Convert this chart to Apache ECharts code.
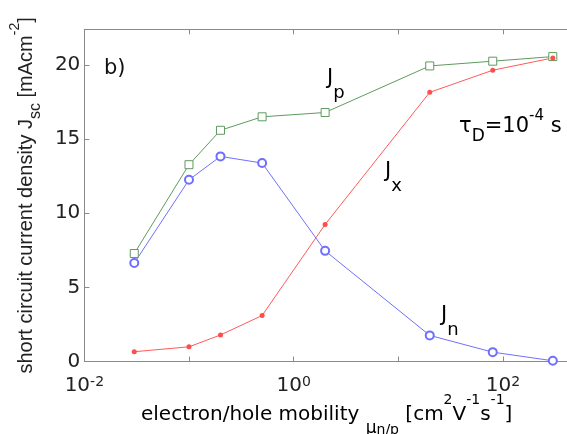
<!DOCTYPE html>
<html>
<head>
<meta charset="utf-8">
<script src="https://cdn.jsdelivr.net/npm/echarts@6/dist/echarts.min.js"></script>
<style>
    html, body { margin: 0; padding: 0; background: #fff; }
    #chart { width: 567px; height: 434px; }
</style>
</head>
<body>
<div id="chart"></div>
<script>
// mobility values (cm2/Vs)
var mobility = [0.03, 0.1, 0.2, 0.5, 2, 20, 80, 300];
// short circuit current densities (mA/cm2)
var jp = [7.28, 13.27, 15.59, 16.5, 16.79, 19.93, 20.25, 20.56];
var jn = [6.64, 12.25, 13.83, 13.38, 7.46, 1.76, 0.63, 0.05];
var jx = [0.66, 0.99, 1.79, 3.1, 9.24, 18.15, 19.64, 20.47];
var yTicks = [0, 5, 10, 15, 20];
var xTicks = [0.01, 1, 100];

var font = "DejaVu Sans";
var font2 = "Liberation Sans";
var frame = "#8a8a8a";

function pairs(ys) {
    var out = [];
    for (var i = 0; i < mobility.length; i++) {
        out.push([mobility[i], ys[i]]);
    }
    return out;
}

function logLabel(v) {
    var ok = false;
    for (var i = 0; i < xTicks.length; i++) {
        if (Math.abs(v - xTicks[i]) < xTicks[i] * 1e-6) ok = true;
    }
    if (!ok) return "";
    var e = Math.round(Math.log(v) / Math.LN10);
    return "{b|10}{s|" + e + "}";
}

function xAxisCfg(pos, showLabel) {
    return {
        type: "log",
        logBase: 10,
        position: pos,
        min: 0.01,
        max: 410,
        axisLine: { show: true, lineStyle: { color: frame, width: 1 } },
        axisTick: { show: true, inside: true, length: 5, interval: 1, lineStyle: { color: frame } },
        minorTick: { show: false },
        splitLine: { show: false },
        axisLabel: {
            show: showLabel,
            interval: 1,
            showMaxLabel: false,
            margin: 14,
            formatter: logLabel,
            rich: {
                b: { fontSize: 20, fontFamily: font, color: "#222", lineHeight: 20, verticalAlign: "bottom" },
                s: { fontSize: 14, fontFamily: font, color: "#222", lineHeight: 14, verticalAlign: "top" }
            }
        }
    };
}

function subText(x, y, main, sub) {
    return {
        type: "text",
        left: x,
        top: y,
        style: {
            text: "{b|" + main + "}{d|" + sub + "}",
            rich: {
                b: { fontSize: 21, fontFamily: font, color: "#111", lineHeight: 34, verticalAlign: "top" },
                d: { fontSize: 18, fontFamily: font, color: "#111", lineHeight: 20, verticalAlign: "bottom" }
            }
        }
    };
}

var chart = echarts.init(document.getElementById("chart"));

var option = {
    backgroundColor: "#fff",
    animation: false,
    grid: { left: 82.7, top: 29.3, bottom: 72.5, right: 0 },
    xAxis: [xAxisCfg("bottom", true), xAxisCfg("top", false)],
    yAxis: {
        type: "value",
        min: 0,
        max: 22.4,
        interval: 5,
        axisLine: { show: true, lineStyle: { color: frame, width: 1 } },
        axisTick: { show: true, inside: true, length: 5, lineStyle: { color: frame } },
        splitLine: { show: false },
        axisLabel: {
            margin: 4,
            showMaxLabel: false,
            fontSize: 20,
            fontFamily: font,
            color: "#222",
            formatter: function(v) {
                return yTicks.indexOf(v) >= 0 ? String(v) : "";
            }
        },
        name: "{b|short circuit current density J}{d|sc}{b| [mAcm}{s|-2}{b|]}",
        nameLocation: "middle",
        nameRotate: 90,
        nameGap: 25,
        nameTextStyle: {
            rich: {
                b: { fontSize: 20, fontFamily: font2, color: "#222", lineHeight: 36, verticalAlign: "middle" },
                s: { fontSize: 14, fontFamily: font2, color: "#222", lineHeight: 14, verticalAlign: "top" },
                d: { fontSize: 16, fontFamily: font2, color: "#222", lineHeight: 16, verticalAlign: "bottom" }
            }
        }
    },
    graphic: [
        {
            type: "text",
            left: 104,
            top: 58,
            style: { text: "b)", fontSize: 21, fontFamily: font, fill: "#111" }
        },
        subText(327, 68, "J", "p"),
        subText(385, 161, "J", "x"),
        subText(441, 305, "J", "n"),
        {
            type: "text",
            left: 459,
            top: 109,
            style: {
                text: "{b|\u03c4}{d|D}{b|=10}{s|-4}{b| s}",
                rich: {
                    b: { fontSize: 21, fontFamily: font, color: "#111", lineHeight: 36, verticalAlign: "middle" },
                    s: { fontSize: 15, fontFamily: font, color: "#111", lineHeight: 15, verticalAlign: "top" },
                    d: { fontSize: 17, fontFamily: font, color: "#111", lineHeight: 17, verticalAlign: "bottom" }
                }
            }
        },
        {
            type: "text",
            left: 141,
            top: 393,
            style: {
                text: "{b|electron/hole mobility }{m|\u03bc}{n|n/p}{b| [cm}{s|2}{b|V}{s|-1}{b|s}{s|-1}{b|]}",
                rich: {
                    b: { fontSize: 20, fontFamily: font, color: "#222", lineHeight: 44, verticalAlign: "middle" },
                    s: { fontSize: 14, fontFamily: font, color: "#222", lineHeight: 22, verticalAlign: "top" },
                    m: { fontSize: 17, fontFamily: font, color: "#222", lineHeight: 40, verticalAlign: "bottom" },
                    n: { fontSize: 14, fontFamily: font, color: "#222", lineHeight: 20, verticalAlign: "bottom" }
                }
            }
        }
    ],
    series: [
        {
            name: "Jp",
            type: "line",
            data: pairs(jp),
            symbol: "rect",
            symbolSize: 8,
            itemStyle: { color: "#fff", borderColor: "#5f9a5f", borderWidth: 1 },
            lineStyle: { color: "#5f9a5f", width: 1 }
        },
        {
            name: "Jn",
            type: "line",
            data: pairs(jn),
            symbol: "emptyCircle",
            symbolSize: 8,
            itemStyle: { color: "#6f6fff", borderColor: "#6f6fff", borderWidth: 1 },
            lineStyle: { color: "#6f6fff", width: 1 }
        },
        {
            name: "Jx",
            type: "line",
            data: pairs(jx),
            symbol: "circle",
            symbolSize: 5,
            itemStyle: { color: "#ff4d4d" },
            lineStyle: { color: "#ff5a5a", width: 1 }
        }
    ]
};

chart.setOption(option);
</script>
</body>
</html>
